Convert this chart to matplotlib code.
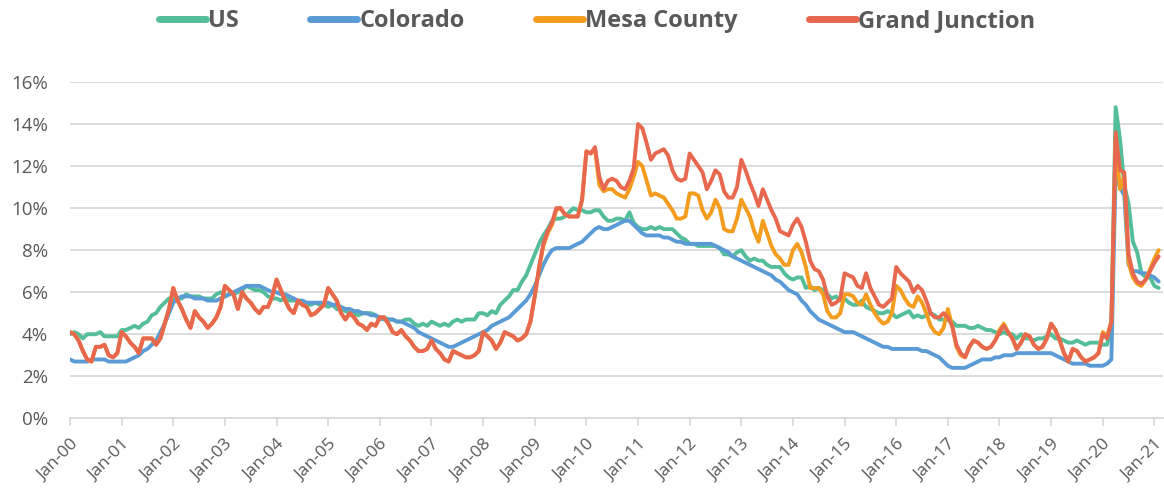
import matplotlib
matplotlib.use("Agg")
import matplotlib.pyplot as plt
import matplotlib.transforms as mtransforms

plt.rcParams['font.family'] = ['Open Sans', 'DejaVu Sans']

# Monthly unemployment rate (%), Jan-2000 .. Feb-2021
us = [
    4.0, 4.1, 4.0, 3.8, 4.0, 4.0, 4.0, 4.1, 3.9, 3.9, 3.9, 3.9,   # 2000
    4.2, 4.2, 4.3, 4.4, 4.3, 4.5, 4.6, 4.9, 5.0, 5.3, 5.5, 5.7,   # 2001
    5.7, 5.7, 5.7, 5.9, 5.8, 5.8, 5.8, 5.7, 5.7, 5.7, 5.9, 6.0,   # 2002
    5.8, 5.9, 5.9, 6.0, 6.1, 6.3, 6.2, 6.1, 6.1, 6.0, 5.8, 5.7,   # 2003
    5.7, 5.6, 5.8, 5.6, 5.6, 5.6, 5.5, 5.4, 5.4, 5.5, 5.4, 5.4,   # 2004
    5.3, 5.4, 5.2, 5.2, 5.1, 5.0, 5.0, 4.9, 5.0, 5.0, 5.0, 4.9,   # 2005
    4.7, 4.8, 4.7, 4.7, 4.6, 4.6, 4.7, 4.7, 4.5, 4.4, 4.5, 4.4,   # 2006
    4.6, 4.5, 4.4, 4.5, 4.4, 4.6, 4.7, 4.6, 4.7, 4.7, 4.7, 5.0,   # 2007
    5.0, 4.9, 5.1, 5.0, 5.4, 5.6, 5.8, 6.1, 6.1, 6.5, 6.8, 7.3,   # 2008
    7.8, 8.3, 8.7, 9.0, 9.4, 9.5, 9.5, 9.6, 9.8, 10.0, 9.9, 9.9,  # 2009
    9.8, 9.8, 9.9, 9.9, 9.6, 9.4, 9.4, 9.5, 9.5, 9.4, 9.8, 9.3,   # 2010
    9.1, 9.0, 9.0, 9.1, 9.0, 9.1, 9.0, 9.0, 9.0, 8.8, 8.6, 8.5,   # 2011
    8.3, 8.3, 8.2, 8.2, 8.2, 8.2, 8.2, 8.1, 7.8, 7.8, 7.7, 7.9,   # 2012
    8.0, 7.7, 7.5, 7.6, 7.5, 7.5, 7.3, 7.2, 7.2, 7.2, 6.9, 6.7,   # 2013
    6.6, 6.7, 6.7, 6.2, 6.3, 6.1, 6.2, 6.1, 5.9, 5.7, 5.8, 5.6,   # 2014
    5.7, 5.5, 5.4, 5.4, 5.6, 5.3, 5.2, 5.1, 5.0, 5.0, 5.1, 5.0,   # 2015
    4.8, 4.9, 5.0, 5.1, 4.8, 4.9, 4.8, 4.9, 5.0, 4.9, 4.7, 4.7,   # 2016
    4.7, 4.6, 4.4, 4.4, 4.4, 4.3, 4.3, 4.4, 4.3, 4.2, 4.2, 4.1,   # 2017
    4.0, 4.1, 4.0, 4.0, 3.8, 4.0, 3.8, 3.8, 3.7, 3.8, 3.8, 3.9,   # 2018
    4.0, 3.8, 3.8, 3.7, 3.6, 3.6, 3.7, 3.6, 3.5, 3.6, 3.6, 3.6,   # 2019
    3.5, 3.5, 4.4, 14.8, 13.3, 11.1, 10.2, 8.4, 7.9, 6.9, 6.7, 6.7,  # 2020
    6.3, 6.2,                                                     # 2021
]

colorado = [
    2.8, 2.7, 2.7, 2.7, 2.7, 2.8, 2.8, 2.8, 2.8, 2.7, 2.7, 2.7,
    2.7, 2.7, 2.8, 2.9, 3.0, 3.2, 3.3, 3.5, 3.7, 4.1, 4.5, 5.0,
    5.5, 5.7, 5.8, 5.8, 5.8, 5.7, 5.7, 5.7, 5.6, 5.6, 5.6, 5.7,
    5.8, 5.9, 6.0, 6.1, 6.2, 6.3, 6.3, 6.3, 6.3, 6.2, 6.1, 6.0,
    6.0, 5.9, 5.9, 5.8, 5.7, 5.6, 5.6, 5.5, 5.5, 5.5, 5.5, 5.5,
    5.5, 5.4, 5.4, 5.3, 5.2, 5.2, 5.1, 5.1, 5.0, 5.0, 4.9, 4.9,
    4.8, 4.7, 4.7, 4.7, 4.6, 4.6, 4.5, 4.4, 4.3, 4.1, 4.0, 3.9,
    3.8, 3.7, 3.6, 3.5, 3.4, 3.4, 3.5, 3.6, 3.7, 3.8, 3.9, 4.0,
    4.1, 4.2, 4.4, 4.5, 4.6, 4.7, 4.8, 5.0, 5.2, 5.4, 5.6, 5.9,
    6.3, 6.8, 7.3, 7.7, 8.0, 8.1, 8.1, 8.1, 8.1, 8.2, 8.3, 8.4,
    8.6, 8.8, 9.0, 9.1, 9.0, 9.0, 9.1, 9.2, 9.3, 9.4, 9.4, 9.2,
    9.0, 8.8, 8.7, 8.7, 8.7, 8.7, 8.6, 8.6, 8.5, 8.4, 8.4, 8.3,
    8.3, 8.3, 8.3, 8.3, 8.3, 8.3, 8.2, 8.1, 8.0, 7.9, 7.7, 7.6,
    7.5, 7.4, 7.3, 7.2, 7.1, 7.0, 6.9, 6.8, 6.6, 6.5, 6.3, 6.1,
    6.0, 5.9, 5.6, 5.4, 5.1, 4.9, 4.7, 4.6, 4.5, 4.4, 4.3, 4.2,
    4.1, 4.1, 4.1, 4.0, 3.9, 3.8, 3.7, 3.6, 3.5, 3.4, 3.4, 3.3,
    3.3, 3.3, 3.3, 3.3, 3.3, 3.3, 3.2, 3.2, 3.1, 3.0, 2.9, 2.7,
    2.5, 2.4, 2.4, 2.4, 2.4, 2.5, 2.6, 2.7, 2.8, 2.8, 2.8, 2.9,
    2.9, 3.0, 3.0, 3.0, 3.1, 3.1, 3.1, 3.1, 3.1, 3.1, 3.1, 3.1,
    3.1, 3.0, 2.9, 2.8, 2.7, 2.6, 2.6, 2.6, 2.6, 2.5, 2.5, 2.5,
    2.5, 2.6, 2.8, 11.8, 11.0, 10.6, 7.3, 7.0, 7.0, 6.9, 6.9, 6.8,
    6.7, 6.5,
]

mesa_county = [
    4.1, 4.0, 3.7, 3.2, 2.8, 2.7, 3.4, 3.4, 3.5, 3.0, 2.9, 3.1,
    4.1, 3.9, 3.6, 3.4, 3.1, 3.8, 3.8, 3.8, 3.5, 3.8, 4.5, 5.2,
    6.2, 5.6, 5.2, 4.7, 4.3, 5.1, 4.8, 4.6, 4.3, 4.5, 4.8, 5.3,
    6.3, 6.1, 5.9, 5.2, 6.0, 5.7, 5.5, 5.2, 5.0, 5.3, 5.3, 5.8,
    6.6, 6.1, 5.6, 5.2, 5.0, 5.6, 5.4, 5.3, 4.9, 5.0, 5.2, 5.4,
    6.2, 5.9, 5.6, 5.0, 4.7, 5.0, 4.8, 4.5, 4.4, 4.2, 4.5, 4.4,
    4.8, 4.8, 4.5, 4.1, 4.0, 4.2, 3.9, 3.7, 3.4, 3.2, 3.2, 3.3,
    3.7, 3.3, 3.1, 2.8, 2.7, 3.2, 3.1, 3.0, 2.9, 2.9, 3.0, 3.2,
    4.1, 3.9, 3.7, 3.3, 3.6, 4.1, 4.0, 3.9, 3.7, 3.8, 4.0, 4.6,
    5.8, 7.1, 8.2, 8.8, 9.2, 9.9, 10.0, 9.7, 9.6, 9.6, 9.6, 10.4,
    12.7, 12.6, 12.8, 11.1, 10.8, 10.9, 10.9, 10.7, 10.6, 10.5, 10.9, 11.5,
    12.2, 12.0, 11.3, 10.6, 10.7, 10.6, 10.5, 10.2, 9.9, 9.5, 9.5, 9.6,
    10.7, 10.7, 10.6, 9.9, 9.5, 9.8, 10.4, 10.0, 9.0, 8.9, 8.9, 9.5,
    10.4, 10.0, 9.6, 8.9, 8.4, 9.4, 8.8, 8.2, 7.8, 7.6, 7.3, 7.3,
    8.0, 8.3, 7.9, 7.2, 6.2, 6.2, 6.2, 5.9, 5.1, 4.8, 4.8, 5.0,
    5.9, 5.9, 5.8, 5.5, 5.4, 5.9, 5.4, 5.0, 4.7, 4.5, 4.6, 5.0,
    6.3, 6.1, 5.7, 5.4, 5.3, 5.8, 5.5, 5.0, 4.4, 4.1, 4.0, 4.3,
    5.2, 4.4, 3.4, 3.0, 2.9, 3.4, 3.7, 3.6, 3.4, 3.3, 3.4, 3.7,
    4.2, 4.5, 4.1, 3.8, 3.3, 3.6, 4.0, 3.9, 3.5, 3.3, 3.4, 3.8,
    4.5, 4.2, 3.7, 3.1, 2.7, 3.3, 3.2, 2.9, 2.7, 2.8, 2.9, 3.1,
    4.1, 3.9, 4.6, 13.3, 10.9, 11.5, 7.4, 6.7, 6.4, 6.3, 6.6, 7.1,
    7.6, 8.0,
]

grand_junction = [
    4.1, 4.0, 3.7, 3.2, 2.8, 2.7, 3.4, 3.4, 3.5, 3.0, 2.9, 3.1,
    4.1, 3.9, 3.6, 3.4, 3.1, 3.8, 3.8, 3.8, 3.5, 3.8, 4.5, 5.2,
    6.2, 5.6, 5.2, 4.7, 4.3, 5.1, 4.8, 4.6, 4.3, 4.5, 4.8, 5.3,
    6.3, 6.1, 5.9, 5.2, 6.0, 5.7, 5.5, 5.2, 5.0, 5.3, 5.3, 5.8,
    6.6, 6.1, 5.6, 5.2, 5.0, 5.6, 5.4, 5.3, 4.9, 5.0, 5.2, 5.4,
    6.2, 5.9, 5.6, 5.0, 4.7, 5.0, 4.8, 4.5, 4.4, 4.2, 4.5, 4.4,
    4.8, 4.8, 4.5, 4.1, 4.0, 4.2, 3.9, 3.7, 3.4, 3.2, 3.2, 3.3,
    3.7, 3.3, 3.1, 2.8, 2.7, 3.2, 3.1, 3.0, 2.9, 2.9, 3.0, 3.2,
    4.1, 3.9, 3.7, 3.3, 3.6, 4.1, 4.0, 3.9, 3.7, 3.8, 4.0, 4.6,
    5.8, 7.2, 8.3, 8.9, 9.3, 10.0, 10.0, 9.7, 9.6, 9.6, 9.6, 10.4,
    12.7, 12.6, 12.9, 11.5, 10.9, 11.3, 11.4, 11.3, 11.0, 10.9, 11.3, 11.9,
    14.0, 13.8, 13.1, 12.3, 12.6, 12.7, 12.8, 12.5, 11.8, 11.4, 11.3, 11.4,
    12.6, 12.3, 12.0, 11.7, 10.9, 11.3, 11.8, 11.6, 10.8, 10.5, 10.5, 11.0,
    12.3, 11.8, 11.2, 10.7, 10.1, 10.9, 10.4, 9.9, 9.5, 8.9, 8.8, 8.7,
    9.2, 9.5, 9.1, 8.4, 7.5, 7.1, 7.0, 6.6, 5.8, 5.4, 5.5, 5.7,
    6.9, 6.8, 6.7, 6.3, 6.2, 6.9, 6.2, 5.8, 5.4, 5.3, 5.5, 5.7,
    7.2, 6.9, 6.7, 6.5, 6.0, 6.3, 6.1, 5.6, 5.0, 4.8, 4.8, 5.0,
    4.8, 4.4, 3.5, 3.1, 2.9, 3.4, 3.7, 3.6, 3.4, 3.3, 3.4, 3.7,
    4.1, 4.4, 4.1, 3.8, 3.3, 3.6, 4.0, 3.9, 3.5, 3.3, 3.4, 3.8,
    4.5, 4.2, 3.7, 3.1, 2.7, 3.3, 3.2, 2.9, 2.7, 2.8, 2.9, 3.1,
    4.0, 3.8, 4.6, 13.6, 11.8, 11.7, 7.8, 6.9, 6.5, 6.4, 6.6, 7.0,
    7.4, 7.7,
]

tick_labels = ['Jan-%02d' % y for y in range(0, 22)]

series = [
    ('US', us, '#54BE9A'),
    ('Colorado', colorado, '#5B9BD5'),
    ('Mesa County', mesa_county, '#F39C1E'),
    ('Grand Junction', grand_junction, '#E8684F'),
]

W, H = 1164, 498
fig = plt.figure(figsize=(W / 100, H / 100), dpi=100)
ax = fig.add_axes([70 / W, (H - 418.3) / H, (1163 - 70) / W, (418.3 - 82) / H])

for name, vals, col in series:
    ax.plot(range(len(vals)), vals, color=col, lw=2.8, label=name,
            solid_joinstyle='round', solid_capstyle='round')

ax.set_xlim(0, 254)
ax.set_ylim(0, 16)
ax.set_yticks(range(0, 17, 2))
ax.set_yticklabels(['%d%%' % v for v in range(0, 17, 2)])
ax.set_xticks(range(0, 253, 12))
ax.set_xticklabels(tick_labels, rotation=45, ha='right', rotation_mode='anchor')

# nudge the rotated date labels a little left so the last one stays inside
shift = mtransforms.ScaledTranslation(-7 / 100, 0, fig.dpi_scale_trans)
for lab in ax.get_xticklabels():
    lab.set_transform(lab.get_transform() + shift)

ax.grid(axis='y', color='#D9D9D9', lw=1.3)
ax.set_axisbelow(True)
for s in ['top', 'right', 'left']:
    ax.spines[s].set_visible(False)
ax.spines['bottom'].set_color('#D9D9D9')
ax.spines['bottom'].set_linewidth(1.3)
ax.tick_params(axis='y', length=0, pad=16, labelsize=13.5, labelcolor='#595959')
ax.tick_params(axis='x', length=6, width=1.3, color='#D9D9D9', pad=7,
               labelsize=12.5, labelcolor='#595959')

leg = fig.legend(loc='upper center', bbox_to_anchor=(0.513, 1.025), ncol=4,
                 frameon=False, handlelength=2.0, handletextpad=0.1,
                 columnspacing=3.0, prop={'weight': 'bold', 'size': 17})
for t in leg.get_texts():
    t.set_color('#595959')
for h in leg.get_lines():
    h.set_linewidth(5)

fig.savefig('out.png', dpi=100)
